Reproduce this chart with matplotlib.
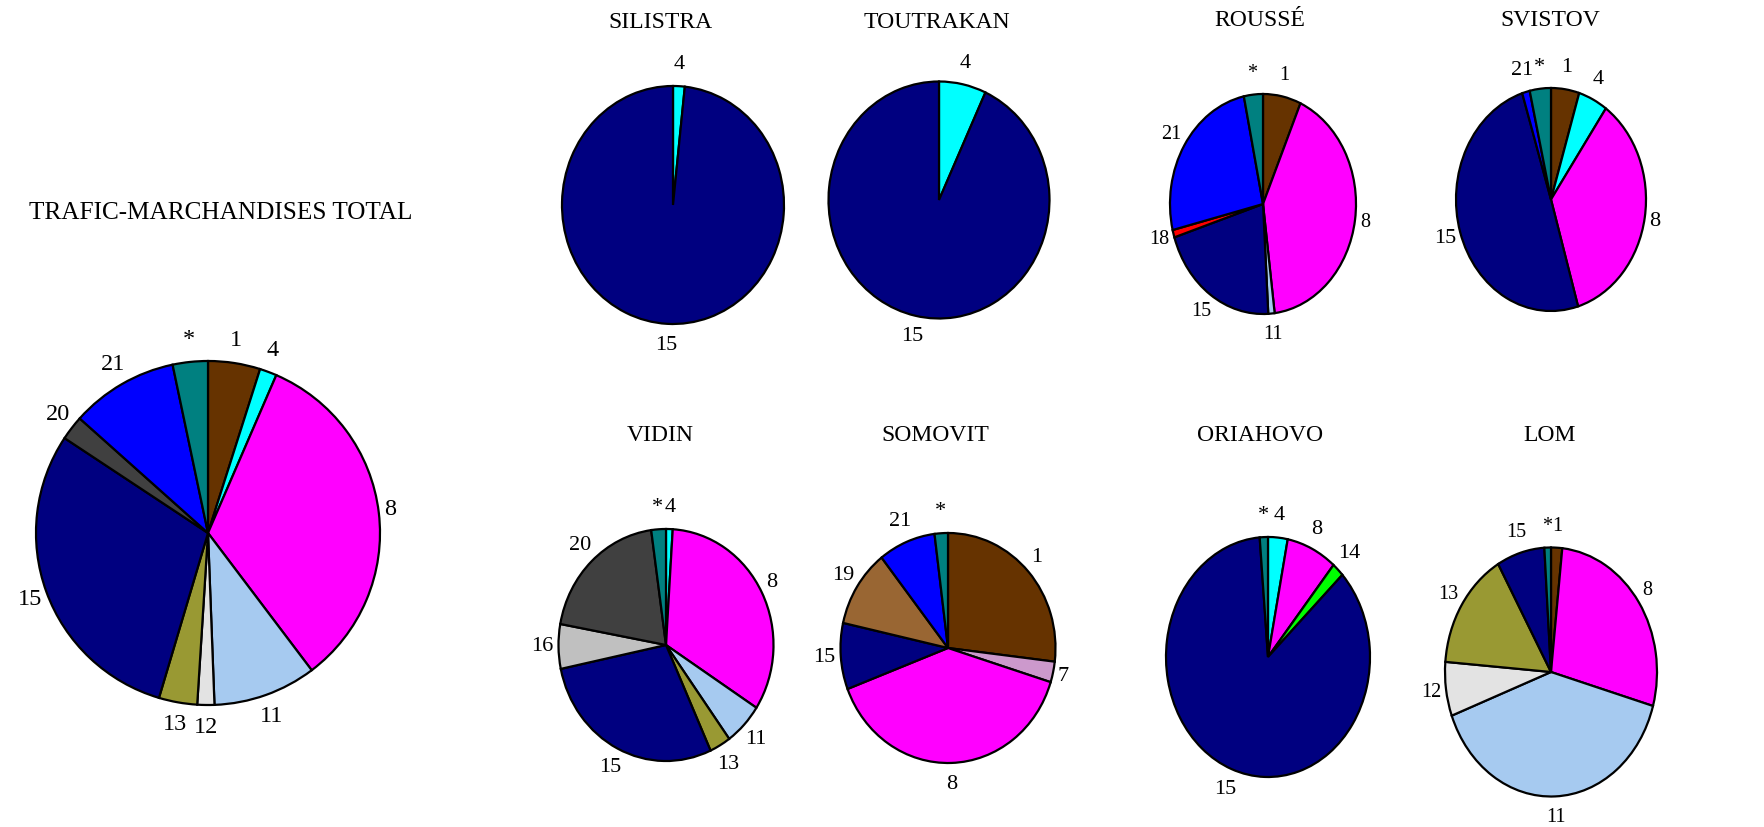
import numpy as np
import matplotlib
matplotlib.use("Agg")
import matplotlib.pyplot as plt

plt.rcParams['font.family'] = ['Liberation Serif', 'DejaVu Serif']

# shares in %, clockwise from 12 o'clock ("*" = other goods)
total_labels = ["1", "4", "8", "11", "12", "13", "15", "20", "21", "*"]
total_values = [4.9, 1.6, 33.2, 9.7, 1.6, 3.6, 29.7, 2.3, 10.1, 3.3]

silistra_labels = ["4", "15"]
silistra_values = [1.7, 98.3]

toutrakan_labels = ["4", "15"]
toutrakan_values = [6.9, 93.1]

rousse_labels = ["1", "8", "11", "15", "18", "21", "*"]
rousse_values = [6.6, 41.4, 1.1, 21.0, 1.1, 25.5, 3.3]

svistov_labels = ["1", "4", "8", "15", "21", "*"]
svistov_values = [4.8, 5.0, 35.6, 49.7, 1.3, 3.6]

vidin_labels = ["4", "8", "11", "13", "15", "16", "20", "*"]
vidin_values = [1.0, 33.1, 5.9, 3.2, 28.5, 6.2, 19.9, 2.2]

somovit_labels = ["1", "7", "8", "15", "19", "21", "*"]
somovit_values = [26.9, 2.9, 39.4, 9.3, 10.9, 8.6, 2.0]

oriahovo_labels = ["4", "8", "14", "15", "*"]
oriahovo_values = [3.1, 8.0, 1.9, 85.7, 1.3]

lom_labels = ["1", "8", "11", "12", "13", "15", "*"]
lom_values = [1.7, 27.7, 39.9, 7.0, 15.4, 7.3, 1.0]

colors = {
    "1": "#663300", "4": "#00ffff", "7": "#cc99cc", "8": "#ff00ff",
    "11": "#a6caf0", "12": "#e3e3e3", "13": "#999933", "14": "#00ff00",
    "15": "#000080", "16": "#c0c0c0", "18": "#ff0000", "19": "#996633",
    "20": "#404040", "21": "#0000ff", "*": "#008080",
}

W, H, DPI = 1764, 827, 100
fig = plt.figure(figsize=(W / DPI, H / DPI), dpi=DPI)

K = 1.6  # axes half-size relative to pie radius


def draw_pie(title, labels, values, cx, cy, rx, ry, tx, ty, fs=16, tfs=17):
    ax = fig.add_axes([(cx - K * rx) / W, (H - cy - K * ry) / H,
                       2 * K * rx / W, 2 * K * ry / H])
    wedges, _ = ax.pie(values, colors=[colors[l] for l in labels],
                       startangle=90, counterclock=False, normalize=True,
                       wedgeprops=dict(edgecolor="black", linewidth=1.6))
    ax.set_aspect("auto")
    ax.set_xlim(-K, K)
    ax.set_ylim(-K, K)
    ax.axis("off")
    fpx = fs * DPI / 72
    for w, lab in zip(wedges, labels):
        a = np.deg2rad((w.theta1 + w.theta2) / 2)
        c, s = np.cos(a), np.sin(a)
        hw = 0.25 * len(lab) * fpx + 5
        hh = 0.35 * fpx + 14
        ax.annotate(lab, (c, s), xytext=(c * hw, s * hh),
                    textcoords="offset pixels", ha="center", va="center",
                    fontsize=fs, annotation_clip=False)
    fig.text(tx / W, 1 - ty / H, title, ha="center", va="center", fontsize=tfs)


draw_pie("TRAFIC-MARCHANDISES TOTAL", total_labels, total_values,
         208, 533, 172, 172, 221, 213, fs=17.5, tfs=18.2)
draw_pie("SILISTRA", silistra_labels, silistra_values,
         673, 205, 111, 119, 660, 22)
draw_pie("TOUTRAKAN", toutrakan_labels, toutrakan_values,
         939, 200, 110.5, 118.5, 937, 22)
draw_pie("ROUSSÉ", rousse_labels, rousse_values,
         1263, 204, 93, 110, 1260, 21, fs=14.5)
draw_pie("SVISTOV", svistov_labels, svistov_values,
         1551, 199.5, 95, 111.5, 1550, 21)
draw_pie("VIDIN", vidin_labels, vidin_values,
         666, 645, 107.5, 116, 660, 436)
draw_pie("SOMOVIT", somovit_labels, somovit_values,
         948, 648, 107.5, 115, 935, 436)
draw_pie("ORIAHOVO", oriahovo_labels, oriahovo_values,
         1268, 657, 102, 120, 1260, 436)
draw_pie("LOM", lom_labels, lom_values,
         1551, 672, 106, 124.5, 1550, 436, fs=14.5)

fig.savefig("out.png", dpi=DPI)
